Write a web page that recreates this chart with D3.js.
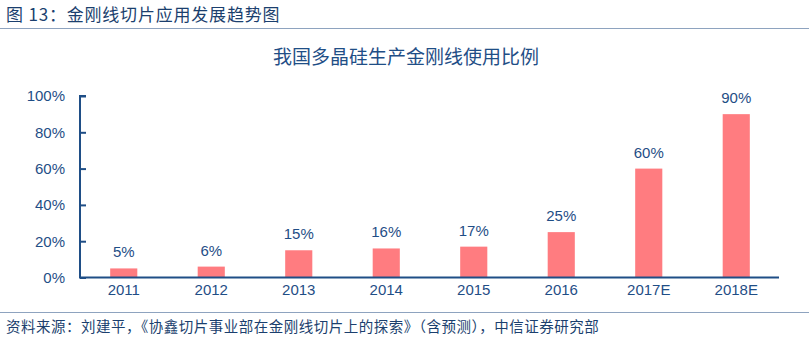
<!DOCTYPE html>
<html><head><meta charset="utf-8">
<script src="https://cdn.jsdelivr.net/npm/d3@7"></script>
<style>body{margin:0;background:#fff}svg{display:block}</style>
</head><body>
<script>
const categories = ["2011","2012","2013","2014","2015","2016","2017E","2018E"];
const values = [5,6,15,16,17,25,60,90];
const yTicks = [0,20,40,60,80,100];
const headerTitle = "图 13：金刚线切片应用发展趋势图";
const chartTitle = "我国多晶硅生产金刚线使用比例";
const sourceText = "资料来源：刘建平，《协鑫切片事业部在金刚线切片上的探索》（含预测），中信证券研究部";

const W = 809, H = 343;
const svg = d3.select("body").append("svg").attr("width", W).attr("height", H);
const cjk = "'Noto Sans CJK SC', sans-serif";
const latin = "'Liberation Sans', Arial, sans-serif";
const blue = "#1F4E86";

// header
svg.append("text").attr("x", 6).attr("y", 21).attr("font-family", cjk).attr("font-size", 17)
  .attr("letter-spacing", 0.8).attr("fill", "#1B3F6E").text(headerTitle);
svg.append("line").attr("x1", 0).attr("x2", W).attr("y1", 28.5).attr("y2", 28.5)
  .attr("stroke", "#8EA3BF").attr("stroke-width", 1);

// chart title
svg.append("text").attr("x", 406).attr("y", 64).attr("text-anchor", "middle")
  .attr("font-family", cjk).attr("font-size", 19).attr("fill", blue).text(chartTitle);

const x = d3.scaleBand().domain(categories).range([80, 780]);
const y = d3.scaleLinear().domain([0, 100]).range([277.5, 96]);
const barW = x.bandwidth() * 0.31;

// bars
svg.append("g").selectAll("rect").data(values).join("rect")
  .attr("x", (d, i) => x(categories[i]) + x.bandwidth() / 2 - barW / 2)
  .attr("y", d => y(d)).attr("width", barW).attr("height", d => y(0) - y(d))
  .attr("fill", "#FF7C80");

// data labels
svg.append("g").selectAll("text").data(values).join("text")
  .attr("x", (d, i) => x(categories[i]) + x.bandwidth() / 2)
  .attr("y", d => y(d) - 11).attr("text-anchor", "middle")
  .attr("font-family", latin).attr("font-size", 15).attr("fill", blue).text(d => d + "%");

// y axis
const yAxis = svg.append("g").attr("transform", "translate(80,0)")
  .call(d3.axisRight(y).tickValues(yTicks).tickSize(6).tickFormat(d => d + "%"));
yAxis.select(".domain").attr("stroke", blue).attr("stroke-width", 2).attr("d", `M6,${y(100)}H0V${y(0)}`);
yAxis.selectAll(".tick line").attr("stroke", blue).attr("stroke-width", 2);
yAxis.selectAll(".tick text").attr("x", -15).attr("text-anchor", "end")
  .attr("font-family", latin).attr("font-size", 15).attr("fill", blue);

// x axis
const xAxis = svg.append("g").attr("transform", `translate(0,${y(0)})`)
  .call(d3.axisBottom(x).tickSize(0).tickPadding(7));
xAxis.select(".domain").attr("stroke", blue).attr("stroke-width", 2).attr("d", "M79,0H779");
xAxis.selectAll(".tick text").attr("font-family", latin).attr("font-size", 15).attr("fill", blue);

// footer
svg.append("line").attr("x1", 0).attr("x2", W).attr("y1", 312.5).attr("y2", 312.5)
  .attr("stroke", "#8EA3BF").attr("stroke-width", 1);
svg.append("text").attr("x", 6).attr("y", 332).attr("font-family", cjk).attr("font-size", 14.5)
  .attr("letter-spacing", 0.5).attr("fill", "#1B3F6E").text(sourceText);
</script>
</body></html>
